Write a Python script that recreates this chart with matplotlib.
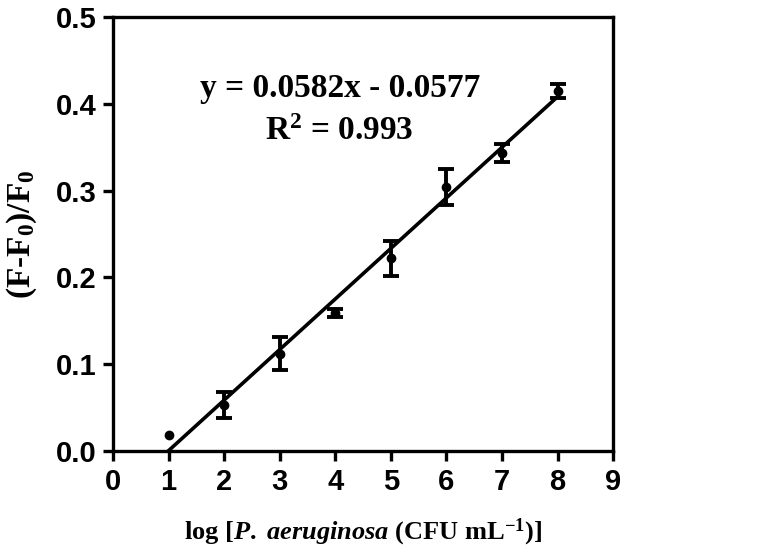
import numpy as np
import matplotlib
matplotlib.use('Agg')
import matplotlib.pyplot as plt

plt.rcParams['mathtext.fontset'] = 'custom'
plt.rcParams['mathtext.rm'] = 'Liberation Serif:bold'
plt.rcParams['mathtext.bf'] = 'Liberation Serif:bold'
plt.rcParams['mathtext.it'] = 'Liberation Serif:italic:bold'
plt.rcParams['mathtext.bfit'] = 'Liberation Serif:italic:bold'

# data
log_conc = np.array([1, 2, 3, 4, 5, 6, 7, 8])
response = np.array([0.018, 0.053, 0.112, 0.159, 0.222, 0.304, 0.343, 0.415])
errors = np.array([0.0, 0.015, 0.019, 0.005, 0.020, 0.021, 0.010, 0.008])
slope = 0.0582
intercept = -0.0577
r_squared = 0.993
x_ticks = [0, 1, 2, 3, 4, 5, 6, 7, 8, 9]
y_ticks = [0.0, 0.1, 0.2, 0.3, 0.4, 0.5]

fig = plt.figure(figsize=(7.82, 5.59), dpi=100)
ax = fig.add_axes([0.1445, 0.193, 0.6395, 0.777])

# fitted line
fit_x = np.array([1, 8])
ax.plot(fit_x, slope * fit_x + intercept, color='black', lw=2.6, zorder=2)

has_err = errors > 0
ax.errorbar(log_conc[has_err], response[has_err], yerr=errors[has_err], fmt='none',
            ecolor='black', elinewidth=2.8, capsize=6, capthick=2.8, zorder=3)
ax.plot(log_conc, response, 'o', color='black', ms=6, zorder=4)

ax.set_xlim(0, 9)
ax.set_ylim(0, 0.5)
ax.set_xticks(x_ticks)
ax.set_yticks(y_ticks)
ax.set_yticklabels([f"{v:.1f}" for v in y_ticks])

for s in ax.spines.values():
    s.set_linewidth(2.4)
ax.tick_params(direction='out', length=7, width=2.4, pad=5)
for lab in ax.get_xticklabels() + ax.get_yticklabels():
    lab.set_fontfamily('Liberation Sans')
    lab.set_fontweight('bold')
    lab.set_fontsize(21)

ax.set_xlabel(r'log [$\mathit{P.}$ $\mathit{aeruginosa}$ (CFU mL$^{-1}$)]',
              fontfamily='Liberation Serif', fontweight='bold', fontsize=19, labelpad=15)
ax.set_ylabel(r'(F-F$_{0}$)/F$_{0}$',
              fontfamily='Liberation Serif', fontweight='bold', fontsize=24, labelpad=12)

ax.text(4.08, 0.418, f'y = {slope:.4f}x - {abs(intercept):.4f}', ha='center', va='center',
        fontfamily='Liberation Serif', fontweight='bold', fontsize=24)
ax.text(4.08, 0.368, f'R$^{{2}}$ = {r_squared:.3f}', ha='center', va='center',
        fontfamily='Liberation Serif', fontweight='bold', fontsize=24)

fig.savefig('out.png', dpi=100)
